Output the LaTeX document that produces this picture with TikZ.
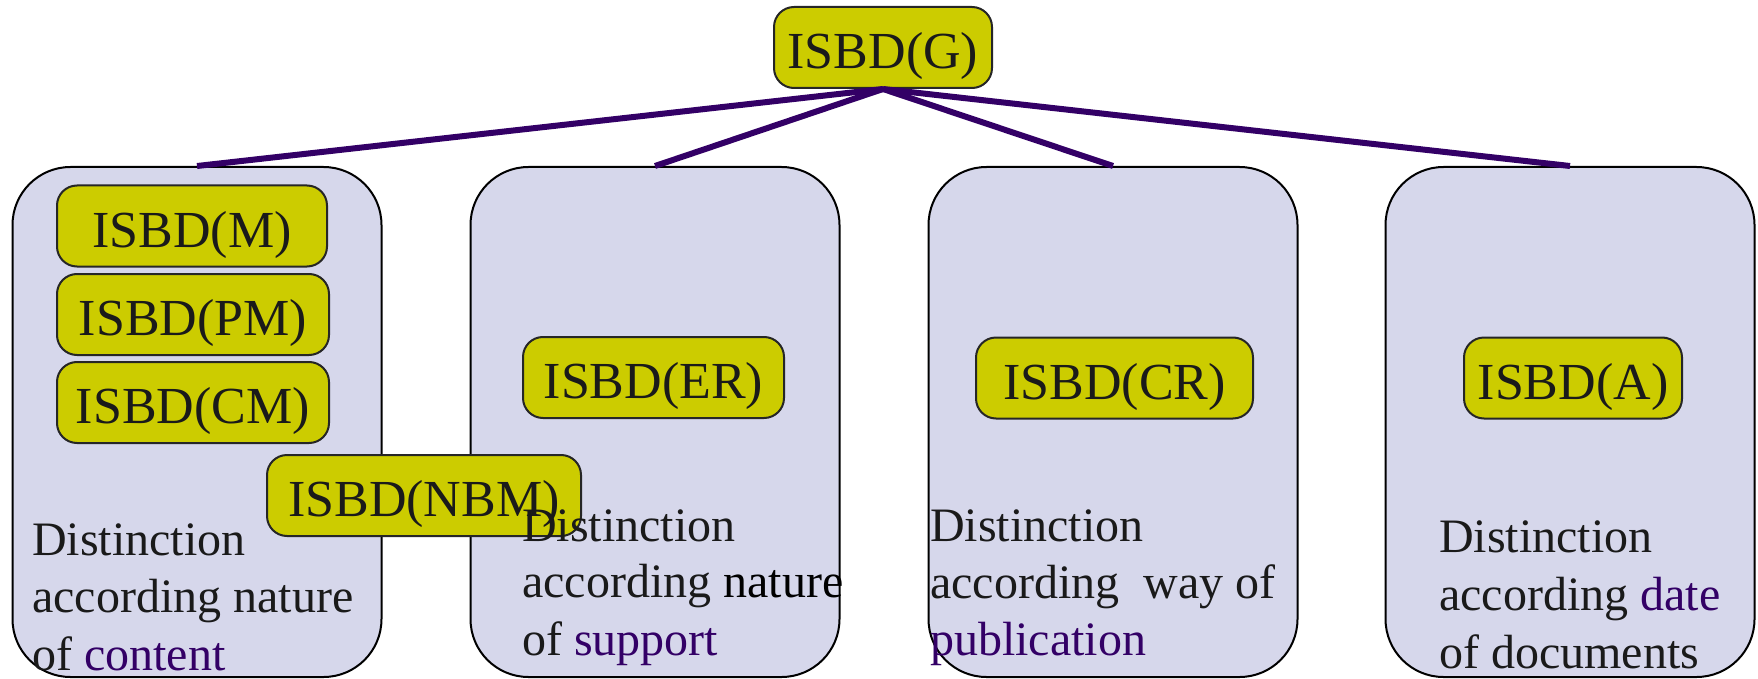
\documentclass[tikz,border=0pt]{standalone}
\usepackage{fontspec}
\setmainfont{Liberation Serif}
\definecolor{lav}{HTML}{D6D7EB}
\definecolor{ylw}{HTML}{CCCC00}
\definecolor{purp}{HTML}{330066}
\definecolor{txt}{HTML}{1A1A1A}
\definecolor{bord}{HTML}{262626}
\begin{document}
\begin{tikzpicture}[x=1pt,y=-1pt,
  bigbox/.style={draw=black, line width=2pt, fill=lav, rounded corners=58pt,
    minimum width=369pt, minimum height=510pt, inner sep=0pt},
  lbl/.style={draw=bord, line width=2pt, fill=ylw, rounded corners=20pt,
    minimum height=81pt, inner sep=0pt, text height=42pt, text depth=0pt,
    text=txt, font=\fontsize{52}{62}\selectfont},
  desc/.style={anchor=base west, inner sep=0pt, text=txt, font=\fontsize{48}{57.6}\selectfont},
  conn/.style={draw=purp, line width=6pt}]
\useasboundingbox (0,0) rectangle (1758,679);
% big boxes
\node[bigbox] (B1) at (197,422) {};
\node[bigbox] (B2) at (655,422) {};
\node[bigbox] (B3) at (1113,422) {};
\node[bigbox] (B4) at (1570,422) {};
% top node
\node[lbl, minimum width=218pt] (G) at (883,47.5) {ISBD(G)};
% connectors
\draw[conn] (G.south) -- (B1.north);
\draw[conn] (G.south) -- (B2.north);
\draw[conn] (G.south) -- (B3.north);
\draw[conn] (G.south) -- (B4.north);
% labels
\node[lbl, minimum width=270pt] (M) at (192,226) {ISBD(M)};
\node[lbl, minimum width=272pt] (PM) at (193,314.5) {ISBD(PM)};
\node[lbl, minimum width=272pt] (CM) at (193,402.5) {ISBD(CM)};
\node[lbl, minimum width=261pt] (ER) at (653.5,377.5) {ISBD(ER)};
\node[lbl, minimum width=277pt] (CR) at (1114.5,378) {ISBD(CR)};
\node[lbl, minimum width=218pt] (A) at (1573,378) {ISBD(A)};
\node[lbl, minimum width=314pt] (NBM) at (424,495.5) {ISBD(NBM)};
% descriptions
\node[desc] (d1a) at (32,555) {Distinction};
\node[desc] (d1b) at (32,612) {according nature};
\node[desc] (d1c) at (32,670) {of \textcolor{purp}{content}};
\node[desc] (d2a) at (522,541) {Distinction};
\node[desc] (d2b) at (522,597) {according \textcolor{black}{nature}};
\node[desc] (d2c) at (522,655) {of \textcolor{purp}{support}};
\node[desc] (d3a) at (930,541) {Distinction};
\node[desc] (d3b) at (930,598) {according~ way of};
\node[desc] (d3c) at (930,655) {\textcolor{purp}{publication}};
\node[desc] (d4a) at (1439,552) {Distinction};
\node[desc] (d4b) at (1439,610) {according \textcolor{purp}{date}};
\node[desc] (d4c) at (1439,668) {of documents};
\end{tikzpicture}
\end{document}
